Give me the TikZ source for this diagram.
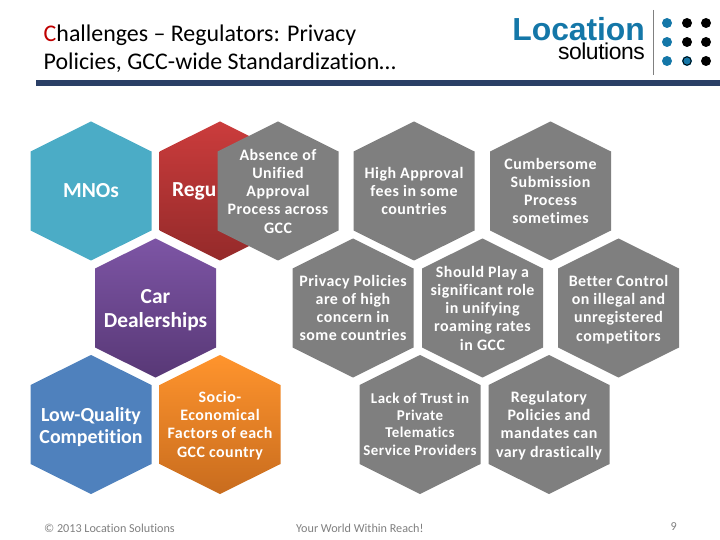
\documentclass[tikz,border=0pt]{standalone}
\usepackage{fontspec}
\setmainfont[RawFeature=-liga]{Carlito}
\newfontfamily\logofont{Liberation Sans}
\definecolor{barblue}{HTML}{2A3F66}
\definecolor{logoblue}{HTML}{1477A8}
\definecolor{footgrey}{HTML}{7F7F7F}
\begin{document}
\begin{tikzpicture}[x=1bp,y=-1bp,
hexcell/.pic={\path[pic actions] (-60.5,-39.5) -- (0,-69.5) -- (60.5,-39.5) -- (60.5,39.5) -- (0,69.5) -- (-60.5,39.5) -- cycle;},
greyhex/.style={fill={rgb,255:red,127;green,127;blue,127}},
hextext/.style={align=center,text=white,font=\bfseries\fontsize{16}{18.3}\selectfont\addfontfeature{LetterSpace=3},inner sep=0pt},
bigtext/.style={align=center,text=white,font=\bfseries\fontsize{21.5}{24}\selectfont,inner sep=0pt},
foot/.style={text=footgrey,font=\fontsize{12.2}{14}\selectfont,inner sep=0pt}]
\useasboundingbox (0,0) rectangle (720,540);
% heading
\node[anchor=base west,align=left,inner sep=0pt,font=\fontsize{24}{28.5}\selectfont] (title) at (43.5,69.5) {\textcolor{red!75!black}{C}hallenges -- Regulators: Privacy\\Policies, GCC-wide Standardization\ldots};
\fill[barblue] (36,80) rectangle (720,86);
% logo
\node[anchor=base east,inner sep=0pt,text=logoblue,font=\logofont\bfseries\fontsize{32}{32}\selectfont] (logoname) at (645,41) {\addfontfeature{LetterSpace=-0.2}Location};
\node[anchor=base east,inner sep=0pt,font=\logofont\fontsize{23}{23}\selectfont] (logosub) at (645,60) {\addfontfeature{LetterSpace=-2}solutions};
\draw[gray,line width=0.8pt] (653,10) -- (653,75);
\foreach \px/\py/\pc in {667/23/logoblue,687/23/black,706/23/black,667/42/logoblue,687/42/black,706/42/black,667/61/logoblue,687/61/logoblue,706/61/black}
  \fill[\pc] (\px,\py) circle (5bp);
\draw[black,line width=0.8pt] (687,61) circle (4.2bp);
% coloured cells
\pic[fill={rgb,255:red,75;green,172;blue,198}] at (91,191) {hexcell};
\node[bigtext] (mnos) at (91,191) {MNOs};
\pic[top color={rgb,255:red,203;green,60;blue,60},bottom color={rgb,255:red,148;green,42;blue,42}] at (220,191) {hexcell};
\node[bigtext,anchor=west] (regu) at (172,191) {Regu};
\pic[top color={rgb,255:red,125;green,85;blue,165},bottom color={rgb,255:red,88;green,56;blue,118}] at (155.5,308) {hexcell};
\node[bigtext] (car) at (155.5,310) {Car\\Dealerships};
\pic[fill={rgb,255:red,79;green,129;blue,189}] at (91,424.5) {hexcell};
\node[align=center,text=white,font=\bfseries\fontsize{20}{22}\selectfont,inner sep=0pt] (lowq) at (91,427) {Low-Quality\\Competition};
\pic[top color={rgb,255:red,255;green,148;blue,45},bottom color={rgb,255:red,200;green,108;blue,30}] at (220,424.5) {hexcell};
\node[hextext] (socio) at (220,425.5) {Socio-\\Economical\\Factors of each\\GCC country};
% grey cells
\pic[greyhex] at (278,191) {hexcell};
\node[hextext] (absence) at (278,191) {Absence of\\Unified\\Approval\\Process across\\GCC};
\pic[greyhex] at (414,191) {hexcell};
\node[hextext] (fees) at (414,191) {High Approval\\fees in some\\countries};
\pic[greyhex] at (550.5,191) {hexcell};
\node[hextext] (submit) at (550.5,191) {Cumbersome\\Submission\\Process\\sometimes};
\pic[greyhex] at (353,308) {hexcell};
\node[hextext] (privacy) at (353,308) {Privacy Policies\\are of high\\concern in\\some countries};
\pic[greyhex] at (482.5,308) {hexcell};
\node[hextext] (roaming) at (482.5,308) {Should Play a\\significant role\\in unifying\\roaming rates\\in GCC};
\pic[greyhex] at (618.5,308) {hexcell};
\node[hextext] (control) at (618.5,309.5) {Better Control\\on illegal and\\unregistered\\competitors};
\pic[greyhex] at (420,424.5) {hexcell};
\node[hextext,font=\bfseries\fontsize{15}{17.3}\selectfont\addfontfeature{LetterSpace=3}] (trust) at (420,424) {Lack of Trust in\\Private\\Telematics\\Service Providers};
\pic[greyhex] at (549,424.5) {hexcell};
\node[hextext] (mandates) at (549,425.5) {Regulatory\\Policies and\\mandates can\\vary drastically};
% footer
\node[foot,anchor=west] (copy) at (44,528) {© 2013 Location Solutions};
\node[foot,anchor=west] (reach) at (296,528) {Your World Within Reach!};
\node[foot,anchor=east] (page) at (677,527) {9};
\end{tikzpicture}
\end{document}
